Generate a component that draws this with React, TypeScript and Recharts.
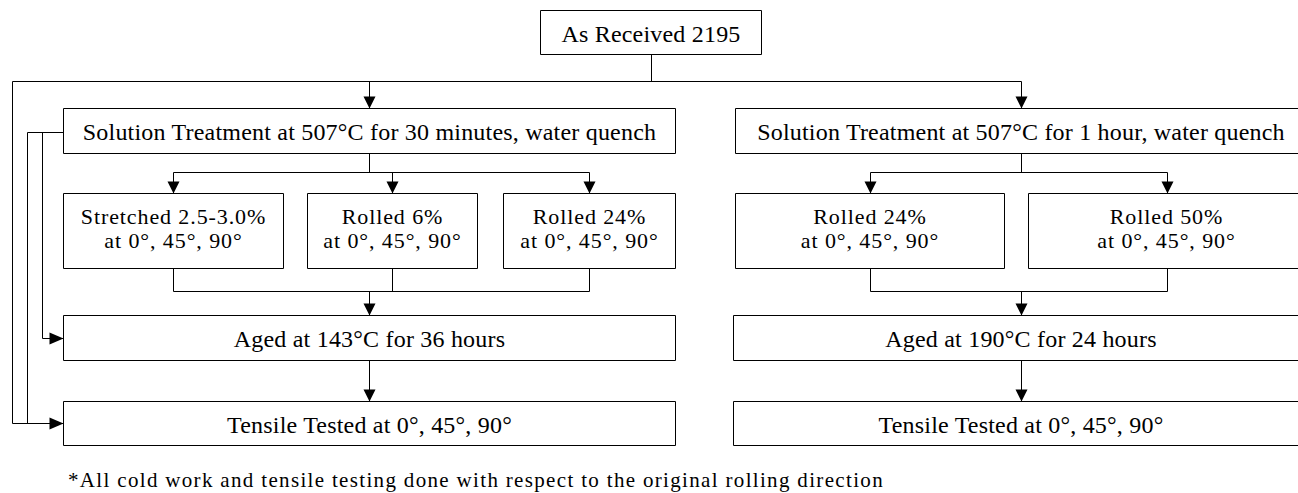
import React from 'react';
import { ComposedChart, XAxis, YAxis, ReferenceArea, Line, Scatter } from 'recharts';

const W = 1298;
const H = 493;
const FONT = '"Liberation Serif", "Times New Roman", serif';

// ---- content ----
const boxLabels: string[][] = [
  ['As Received 2195'],
  ['Solution Treatment at 507°C for 30 minutes, water quench'],
  ['Solution Treatment at 507°C for 1 hour, water quench'],
  ['Stretched 2.5-3.0%', 'at 0°, 45°, 90°'],
  ['Rolled 6%', 'at 0°, 45°, 90°'],
  ['Rolled 24%', 'at 0°, 45°, 90°'],
  ['Rolled 24%', 'at 0°, 45°, 90°'],
  ['Rolled 50%', 'at 0°, 45°, 90°'],
  ['Aged at 143°C for 36 hours'],
  ['Tensile Tested at 0°, 45°, 90°'],
  ['Aged at 190°C for 24 hours'],
  ['Tensile Tested at 0°, 45°, 90°'],
];

const footnote = '*All cold work and tensile testing done with respect to the original rolling direction';

// ---- layout (x1, x2, y1, y2) in chart units ----
const boxLayout: number[][] = [
  [540.5, 761.5, 10.5, 54.5],
  [63.5, 675.5, 108.5, 153.5],
  [735.5, 1306.5, 108.5, 153.5],
  [63.5, 283.5, 193.5, 268.5],
  [307.5, 477.5, 193.5, 268.5],
  [503.5, 675.5, 193.5, 268.5],
  [735.5, 1004.5, 193.5, 268.5],
  [1028.5, 1304.5, 193.5, 268.5],
  [63.5, 675.5, 315.5, 360.5],
  [63.5, 675.5, 401.5, 445.5],
  [733.5, 1308.5, 315.5, 360.5],
  [733.5, 1308.5, 401.5, 445.5],
];

// connector polylines
const connectors: [number, number][][] = [
  [[651.5, 54.5], [651.5, 81.5]],
  [[12.5, 423.5], [12.5, 81.5], [1021.5, 81.5], [1021.5, 108.5]],
  [[369.5, 81.5], [369.5, 108.5]],
  [[12.5, 423.5], [63.5, 423.5]],
  [[63.5, 132.5], [27.5, 132.5], [27.5, 423.5]],
  [[42.5, 132.5], [42.5, 338.5], [63.5, 338.5]],
  [[369.5, 153.5], [369.5, 172.5]],
  [[173.5, 193.5], [173.5, 172.5], [589.5, 172.5], [589.5, 193.5]],
  [[392.5, 172.5], [392.5, 193.5]],
  [[173.5, 268.5], [173.5, 291.5], [589.5, 291.5], [589.5, 268.5]],
  [[392.5, 268.5], [392.5, 291.5]],
  [[369.5, 291.5], [369.5, 315.5]],
  [[369.5, 360.5], [369.5, 401.5]],
  [[1021.5, 153.5], [1021.5, 172.5]],
  [[870.5, 193.5], [870.5, 172.5], [1167.5, 172.5], [1167.5, 193.5]],
  [[870.5, 268.5], [870.5, 291.5], [1167.5, 291.5], [1167.5, 268.5]],
  [[1021.5, 291.5], [1021.5, 315.5]],
  [[1021.5, 360.5], [1021.5, 401.5]],
];

// arrow heads: tip position + direction
const arrowHeads: { x: number; y: number; dir: 'down' | 'right' }[] = [
  { x: 369.5, y: 108.5, dir: 'down' },
  { x: 1021.5, y: 108.5, dir: 'down' },
  { x: 173.5, y: 193.5, dir: 'down' },
  { x: 392.5, y: 193.5, dir: 'down' },
  { x: 589.5, y: 193.5, dir: 'down' },
  { x: 870.5, y: 193.5, dir: 'down' },
  { x: 1167.5, y: 193.5, dir: 'down' },
  { x: 369.5, y: 315.5, dir: 'down' },
  { x: 1021.5, y: 315.5, dir: 'down' },
  { x: 369.5, y: 401.5, dir: 'down' },
  { x: 1021.5, y: 401.5, dir: 'down' },
  { x: 63.5, y: 338.5, dir: 'right' },
  { x: 63.5, y: 423.5, dir: 'right' },
];

const labelPoints = boxLayout.map((b, i) => ({
  x: (b[0] + b[1]) / 2,
  y: (b[2] + b[3]) / 2,
  lines: boxLabels[i],
}));

const footPoints = [{ x: 68, y: 487, text: footnote }];

const BoxLabel = (props: any) => {
  const { cx, cy, payload } = props;
  const lines: string[] = payload.lines;
  if (lines.length === 1) {
    return (
      <text x={cx} y={cy + 9} textAnchor="middle" fontFamily={FONT} fontSize={24} fill="#000" letterSpacing={0.2}>
        {lines[0]}
      </text>
    );
  }
  return (
    <g>
      <text x={cx} y={cy - 7} textAnchor="middle" fontFamily={FONT} fontSize={22} fill="#000" letterSpacing={0.9}>
        {lines[0]}
      </text>
      <text x={cx} y={cy + 17} textAnchor="middle" fontFamily={FONT} fontSize={22} fill="#000" letterSpacing={0.9}>
        {lines[1]}
      </text>
    </g>
  );
};

const FootLabel = (props: any) => {
  const { cx, cy, payload } = props;
  return (
    <text x={cx} y={cy} textAnchor="start" fontFamily={FONT} fontSize={21} fill="#000" letterSpacing={1.33}>
      {payload.text}
    </text>
  );
};

const ArrowHead = (props: any) => {
  const { cx, cy, payload } = props;
  if (payload.dir === 'down') {
    const pts = `${cx - 6},${cy - 12} ${cx + 6},${cy - 12} ${cx},${cy}`;
    return <polygon points={pts} fill="#000" />;
  }
  const pts = `${cx - 14},${cy - 6} ${cx - 14},${cy + 6} ${cx},${cy}`;
  return <polygon points={pts} fill="#000" />;
};

export default function App() {
  return (
    <div style={{ position: 'absolute', left: 0, top: 0, width: W, height: H, background: '#fff' }}>
      <ComposedChart width={W} height={H} margin={{ top: 0, right: 0, bottom: 0, left: 0 }}>
        <XAxis type="number" dataKey="x" domain={[0, W]} hide allowDataOverflow />
        <YAxis type="number" dataKey="y" domain={[0, H]} reversed hide allowDataOverflow />
        {boxLayout.map((b, i) => (
          <ReferenceArea
            key={`box-${i}`}
            x1={b[0]}
            x2={b[1]}
            y1={b[2]}
            y2={b[3]}
            fill="#fff"
            fillOpacity={1}
            stroke="#000"
            strokeWidth={1}
            ifOverflow="hidden"
          />
        ))}
        {connectors.map((c, i) => (
          <Line
            key={`con-${i}`}
            data={c.map(([x, y]) => ({ x, y }))}
            dataKey="y"
            type="linear"
            stroke="#000"
            strokeWidth={1}
            dot={false}
            activeDot={false}
            isAnimationActive={false}
            legendType="none"
          />
        ))}
        <Scatter data={arrowHeads} dataKey="y" shape={ArrowHead} isAnimationActive={false} />
        <Scatter data={labelPoints} dataKey="y" shape={BoxLabel} isAnimationActive={false} />
        <Scatter data={footPoints} dataKey="y" shape={FootLabel} isAnimationActive={false} />
      </ComposedChart>
    </div>
  );
}
